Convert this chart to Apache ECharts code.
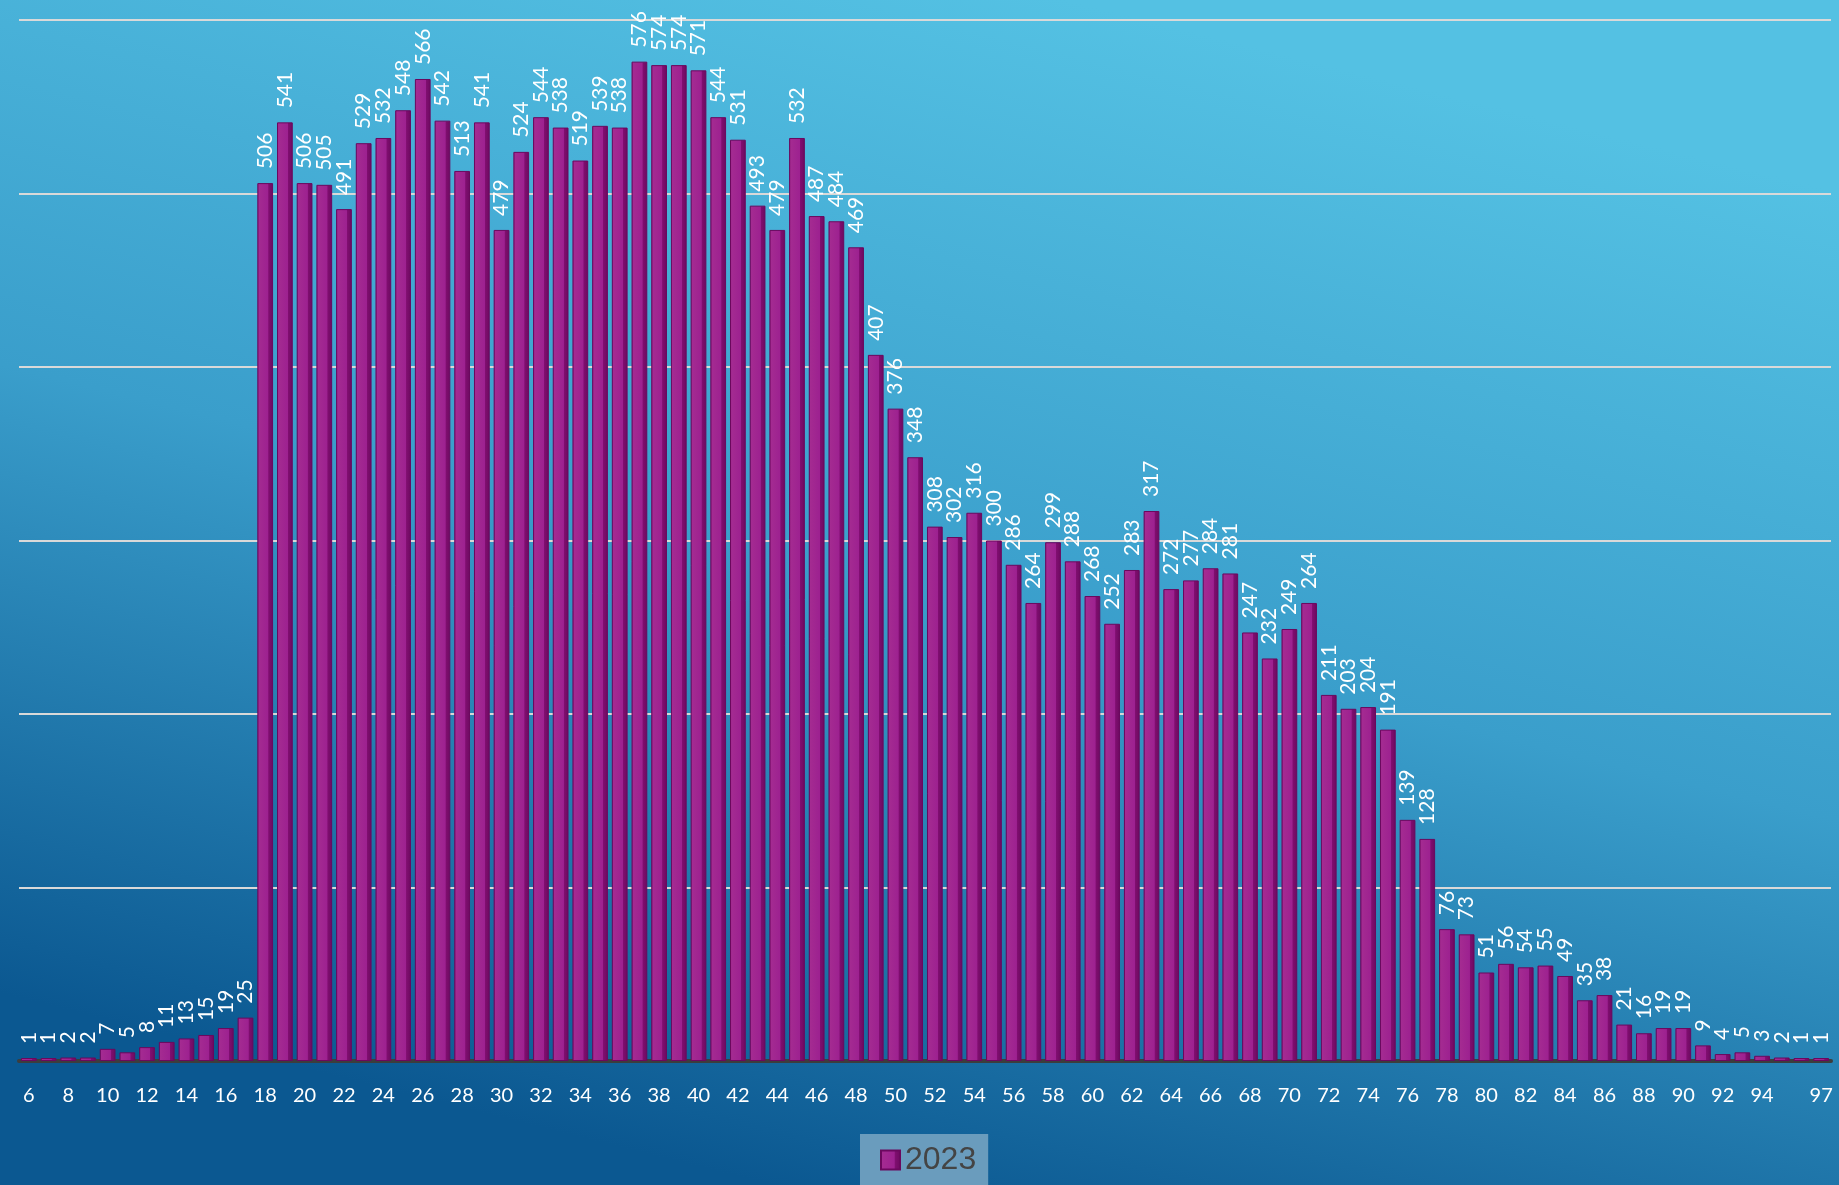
<!DOCTYPE html>
<html>
<head>
<meta charset="utf-8">
<style>
  html, body { margin: 0; padding: 0; width: 1839px; height: 1185px; overflow: hidden; }
  #chart { width: 1839px; height: 1185px; }
</style>
<script src="https://cdn.jsdelivr.net/npm/echarts@6/dist/echarts.min.js"></script>
</head>
<body>
<div id="chart"></div>
<script>
  // ages 6..97
  var categories = [];
  for (var a = 6; a <= 97; a++) categories.push(String(a));

  var values2023 = [
    1, 1, 2, 2, 7, 5, 8, 11, 13, 15, 19, 25,
    506, 541, 506, 505, 491, 529, 532, 548, 566, 542, 513, 541, 479, 524, 544, 538, 519, 539, 538,
    576, 574, 574, 571, 544, 531, 493, 479, 532, 487, 484, 469,
    407, 376, 348, 308, 302, 316, 300, 286, 264, 299, 288, 268, 252, 283, 317, 272, 277, 284, 281,
    247, 232, 249, 264, 211, 203, 204, 191, 139, 128,
    76, 73, 51, 56, 54, 55, 49, 35, 38, 21, 16, 19, 19, 9, 4, 5, 3, 2, 1, 1
  ];

  var seriesName = '2023';

  var chart = echarts.init(document.getElementById('chart'));

  var barFill = new echarts.graphic.LinearGradient(0, 0, 1, 0, [
    { offset: 0, color: '#7a0c6c' },
    { offset: 0.1, color: '#a42b91' },
    { offset: 0.68, color: '#9d2190' },
    { offset: 0.72, color: '#800e70' },
    { offset: 1, color: '#6c0a5f' }
  ]);

  var option = {
    backgroundColor: new echarts.graphic.LinearGradient(0.42, 1, 0.58, 0, [
      { offset: 0, color: '#0b5891' },
      { offset: 0.5, color: '#3a9ecb' },
      { offset: 1, color: '#54c1e3' }
    ]),
    animation: false,
    grid: { left: 19, right: 8, top: 20, bottom: 124 },
    legend: {
      data: [seriesName],
      top: 1134,
      left: 860,
      icon: 'rect',
      itemWidth: 19,
      itemHeight: 19,
      itemGap: 8,
      padding: [10, 12, 20, 20],
      backgroundColor: '#6a9cbd',
      textStyle: { color: '#444', fontSize: 32, fontFamily: 'Liberation Sans' }
    },
    xAxis: {
      type: 'category',
      data: categories,
      axisLine: { lineStyle: { color: '#3d3d3d', width: 4 } },
      axisTick: { show: false },
      axisLabel: {
        color: '#ffffff',
        fontSize: 20,
        fontFamily: 'Lato',
        margin: 25,
        interval: function (index) {
          return index === categories.length - 1 || (index % 2 === 0 && index < categories.length - 2);
        }
      }
    },
    yAxis: {
      type: 'value',
      min: 0,
      max: 600,
      interval: 100,
      axisLine: { show: false },
      axisTick: { show: false },
      axisLabel: { show: false },
      splitLine: { lineStyle: { color: '#d9d9d9', width: 2 } }
    },
    series: [{
      name: seriesName,
      type: 'bar',
      data: values2023,
      barCategoryGap: '20%',
      barMinHeight: 3,
      itemStyle: { color: barFill, borderColor: '#6b085e', borderWidth: 1 },
      label: {
        show: true,
        position: 'top',
        rotate: 90,
        align: 'left',
        verticalAlign: 'middle',
        distance: 14,
        color: '#ffffff',
        fontSize: 21,
        fontFamily: 'Lato'
      }
    }],
    color: ['#a02690']
  };

  chart.setOption(option);
</script>
</body>
</html>
